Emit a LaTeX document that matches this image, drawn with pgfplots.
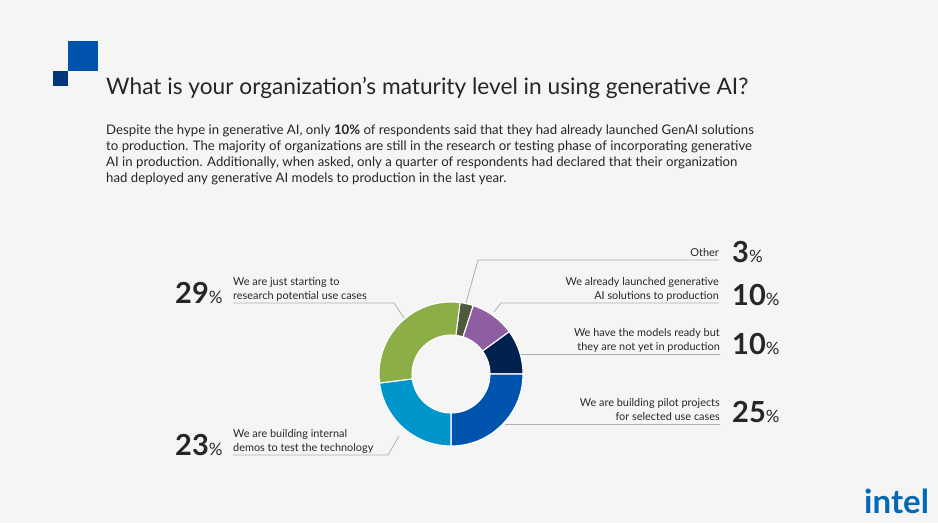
\documentclass[border=0pt]{standalone}
\usepackage{pgfplots}
\pgfplotsset{compat=1.18}
\usepackage{pgfplotstable}
\usepackage{fontspec}
\setmainfont{Lato}
\definecolor{bg}{HTML}{F5F5F5}
\definecolor{logoA}{HTML}{0054AE}
\definecolor{logoB}{HTML}{00377C}
\definecolor{cOther}{HTML}{4D5A3D}
\definecolor{cPurple}{HTML}{8F5DA2}
\definecolor{cNavy}{HTML}{00204E}
\definecolor{cBlue}{HTML}{0054AE}
\definecolor{cLight}{HTML}{0096CC}
\definecolor{cGreen}{HTML}{8BAE46}
\definecolor{txt}{HTML}{262626}
\definecolor{lead}{HTML}{B0B0B0}
\definecolor{intelblue}{HTML}{0068B5}
\definecolor{intelcyan}{HTML}{00C7FD}

% slices: centre x, centre y (pixels, y downwards), start angle (deg), share (%), colour index
\pgfplotstableread{
x   y   start  pct  ci
451 374 82.8   3    0
451 374 72.0   10   1
451 374 36.0   10   2
451 374 0.0    25   3
451 374 -90.0  23   4
451 374 -172.8 29   5
}\slices

\pgfdeclareplotmark{donut}{%
  \pgfmathtruncatemacro\cinum{\ci}%
  \ifcase\cinum \pgfsetfillcolor{cOther}\or \pgfsetfillcolor{cPurple}\or
    \pgfsetfillcolor{cNavy}\or \pgfsetfillcolor{cBlue}\or
    \pgfsetfillcolor{cLight}\or \pgfsetfillcolor{cGreen}\fi
  \pgfpathmoveto{\pgfpointpolar{\sa}{72pt}}%
  \pgfpatharc{\sa}{\ea}{72pt}%
  \pgfpathlineto{\pgfpointpolar{\ea}{39pt}}%
  \pgfpatharc{\ea}{\sa}{39pt}%
  \pgfpathclose
  \pgfsetstrokecolor{white}%
  \pgfsetlinewidth{1.1pt}%
  \pgfsetroundjoin
  \pgfusepathqfillstroke
}

\newcommand{\bignum}[1]{{\fontsize{29}{29}\selectfont\bfseries #1}}
\newcommand{\pc}{{\fontsize{17}{17}\selectfont\%}}

\begin{document}
\begin{tikzpicture}
\fill[bg] (0,0) rectangle (938pt,523pt);
\begin{axis}[
  scale only axis, width=938pt, height=523pt,
  xmin=0, xmax=938, ymin=0, ymax=523, y dir=reverse,
  hide axis, clip=false,
]
% logo squares
\fill[logoA] (axis cs:68,41) rectangle (axis cs:98,71);
\fill[logoB] (axis cs:53,71) rectangle (axis cs:68,86);

% title
\node[anchor=base west, inner sep=0, text=txt, font=\fontsize{22.7}{26}\selectfont]
  at (axis cs:106,94) {What is your organization’s maturity level in using generative AI?};

% paragraph
\begin{scope}[every node/.style={anchor=base west, inner sep=0, text=txt, font=\fontsize{13.2}{16}\selectfont}]
\node at (axis cs:106,134) {Despite the hype in generative AI, only \textbf{10\%} of respondents said that they had already launched GenAI solutions};
\node at (axis cs:106,150) {to production. The majority of organizations are still in the research or testing phase of incorporating generative};
\node at (axis cs:106,166) {AI in production. Additionally, when asked, only a quarter of respondents had declared that their organization};
\node at (axis cs:106,182) {had deployed any generative AI models to production in the last year.};
\end{scope}

% leader lines
\addplot[lead, line width=0.8pt] coordinates {(719,260) (478,260) (466,303)};
\addplot[lead, line width=0.8pt] coordinates {(719,303) (501,303) (494,312)};
\addplot[lead, line width=0.8pt] coordinates {(720,354) (521,354)};
\addplot[lead, line width=0.8pt] coordinates {(720,424) (505,424)};
\addplot[lead, line width=0.8pt] coordinates {(233,303) (394,303) (404,318)};
\addplot[lead, line width=0.8pt] coordinates {(233,455) (388,455) (399,436)};

% donut
\addplot[only marks, mark=donut,
  visualization depends on={\thisrow{start} \as \sa},
  visualization depends on={\thisrow{start}-3.6*\thisrow{pct} \as \ea},
  visualization depends on={\thisrow{ci} \as \ci},
] table[x=x, y=y] {\slices};

% labels
\begin{scope}[every node/.style={inner sep=0, text=txt, font=\fontsize{10.9}{13}\selectfont}]
\node[anchor=base west] at (axis cs:233,285) {We are just starting to};
\node[anchor=base west] at (axis cs:233,299) {research potential use cases};
\node[anchor=base west] at (axis cs:233,437) {We are building internal};
\node[anchor=base west] at (axis cs:233,451) {demos to test the technology};
\node[anchor=base east] at (axis cs:719,256) {Other};
\node[anchor=base east] at (axis cs:719,285) {We already launched generative};
\node[anchor=base east] at (axis cs:719,299) {AI solutions to production};
\node[anchor=base east] at (axis cs:720,336) {We have the models ready but};
\node[anchor=base east] at (axis cs:720,350) {they are not yet in production};
\node[anchor=base east] at (axis cs:720,406) {We are building pilot projects};
\node[anchor=base east] at (axis cs:720,420) {for selected use cases};
\end{scope}

% big numbers
\begin{scope}[every node/.style={inner sep=0, text=txt, anchor=base west}]
\node at (axis cs:175,303) {\bignum{29}\pc};
\node at (axis cs:175,455) {\bignum{23}\pc};
\node at (axis cs:732,262) {\bignum{3}\pc};
\node at (axis cs:732,305) {\bignum{10}\pc};
\node at (axis cs:732,354) {\bignum{10}\pc};
\node at (axis cs:732,422) {\bignum{25}\pc};
\end{scope}

% intel logo
\node[anchor=base west, inner sep=0, text=intelblue, font=\fontsize{33}{33}\selectfont\bfseries]
  at (axis cs:864,513) {intel};
\end{axis}
\end{tikzpicture}
\end{document}
